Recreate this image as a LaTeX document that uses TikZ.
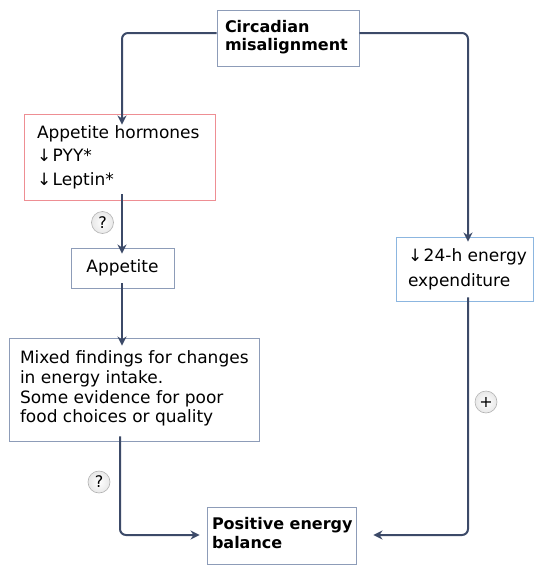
\documentclass[tikz,border=0pt]{standalone}
\usepackage{fontspec}
\setmainfont{DejaVu Sans}
\usetikzlibrary{arrows.meta}
\definecolor{linec}{HTML}{3C4A68}
\definecolor{boxc}{HTML}{8D9CB8}
\definecolor{pinkc}{HTML}{EE8E93}
\definecolor{bluec}{HTML}{8CB6E0}
\newcommand{\dnarr}{↓\hspace{1.5pt}}
\newcommand{\lines}[3]{\raisebox{#2}{\makebox[#1][l]{\begin{tabular}{@{}l@{}}#3\end{tabular}}}}
\begin{document}
\begin{tikzpicture}[x=1pt,y=-1pt,
  box/.style={draw=boxc,line width=0.9pt,fill=white,inner sep=0pt,font=\fontsize{17}{19.7}\selectfont},
  conn/.style={draw=linec,line width=2pt,rounded corners=6pt},
  arr/.style={conn,-{Stealth[length=9pt,width=9pt]}},
  signmark/.style={circle,draw=gray!60,line width=0.6pt,inner sep=0pt,minimum size=22pt,inner color=white,outer color=gray!18,font=\fontsize{16}{16}\selectfont}
  ]
\useasboundingbox (0,0) rectangle (535,565);
\node[box,minimum width=142pt,minimum height=56pt,font=\bfseries\fontsize{16}{17.3}\selectfont] (circ) at (288,38)
  {\lines{126pt}{-2pt}{Circadian\\misalignment}};
\node[box,draw=pinkc,minimum width=191pt,minimum height=86pt,font=\fontsize{17}{23.5}\selectfont] (horm) at (119.5,157)
  {\lines{165pt}{0pt}{Appetite hormones\\\dnarr PYY*\\\dnarr Leptin*}};
\node[box,minimum width=103pt,minimum height=40pt] (app) at (122.5,268)
  {\raisebox{-2.5pt}{Appetite}};
\node[box,minimum width=250pt,minimum height=103pt] (mix) at (134,389.5)
  {\lines{228pt}{0pt}{Mixed findings for changes\\in energy intake.\\Some evidence for poor\\food choices or quality}};
\node[box,draw=bluec,minimum width=137pt,minimum height=64pt,font=\fontsize{17}{25}\selectfont] (ee) at (464.5,269)
  {\lines{113pt}{-3.5pt}{\dnarr 24-h energy\\expenditure}};
\node[box,minimum width=149pt,minimum height=57pt,font=\bfseries\fontsize{16}{18.7}\selectfont] (pos) at (281.5,535.5)
  {\lines{139pt}{-1.8pt}{Positive energy\\balance}};
\coordinate (lc) at (122,33);
\coordinate (rc) at (468,33);
\coordinate (lb) at (120,535);
\coordinate (rb) at (468,535);
\draw[arr] (circ.west |- lc) -- (lc) -- ([yshift=-11pt]horm.north -| lc);
\draw[arr] (circ.east |- rc) -- (rc) -- ([yshift=-5pt]ee.north -| rc);
\draw[arr] ([yshift=6pt]horm.south -| lc) -- ([yshift=-6pt]app.north -| lc);
\draw[arr] ([yshift=5pt]app.south -| lc) -- ([yshift=-8pt]mix.north -| lc);
\draw[arr] ([yshift=5pt]mix.south -| lb) -- (lb) -- ([xshift=-7pt]pos.west |- lb);
\draw[arr] ([yshift=4pt]ee.south -| rb) -- (rb) -- ([xshift=17pt]pos.east |- rb);
\node[signmark] (q1) at (102.5,222.5) {?};
\node[signmark] (q2) at (99,482) {?};
\node[signmark] (p1) at (486,402) {+};
\end{tikzpicture}
\end{document}
